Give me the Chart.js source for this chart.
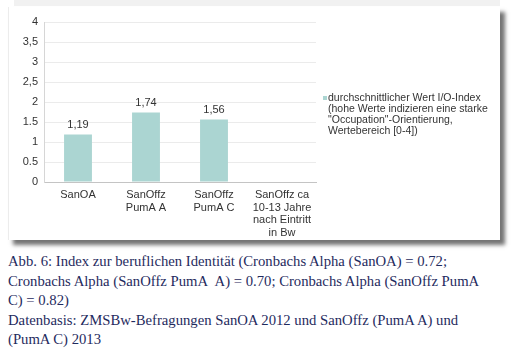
<!DOCTYPE html>
<html>
<head>
<meta charset="utf-8">
<script src="https://cdn.jsdelivr.net/npm/chart.js@4"></script>
<style>
  body { margin: 0; background: #fff; width: 511px; height: 353px; overflow: hidden; position: relative; }
  #band { position: absolute; left: 14px; top: 0; width: 486px; height: 6px; background: #f1f1f1; }
  #frame { position: absolute; left: 8px; top: 7px; width: 491px; height: 233px; background: #fff;
           border-left: 1px solid #ececec; box-shadow: 5px 5px 4px rgba(70,70,70,0.75); }
  #chartBox { position: absolute; left: 0; top: 0; width: 511px; height: 245px; }
  #caption { position: absolute; left: 8px; top: 252px; font-family: "Liberation Serif", serif;
             font-size: 14.7px; line-height: 19.5px; color: #1f2b5e; white-space: nowrap; }
</style>
</head>
<body>
<div id="band"></div>
<div id="frame"></div>
<div id="chartBox"><canvas id="myChart" width="511" height="245"></canvas></div>
<div id="caption">
Abb. 6: Index zur beruflichen Identität (Cronbachs Alpha (SanOA) = 0.72;<br>
Cronbachs Alpha (SanOffz PumA&nbsp; A) = 0.70; Cronbachs Alpha (SanOffz PumA<br>
C) = 0.82)<br>
Datenbasis: ZMSBw-Befragungen SanOA 2012 und SanOffz (PumA A) und<br>
(PumA C) 2013
</div>
<script>
var categories = [
  ["SanOA"],
  ["SanOffz", "PumA A"],
  ["SanOffz", "PumA C"],
  ["SanOffz ca", "10-13 Jahre", "nach Eintritt", "in Bw"]
];
var values = [1.19, 1.74, 1.56, null];
var valueLabels = ["1,19", "1,74", "1,56", ""];
var yTickLabels = ["0", "0.5", "1", "1.5", "2", "2,5", "3", "3,5", "4"];
var legendLines = [
  "durchschnittlicher Wert I/O-Index",
  "(hohe Werte indizieren eine starke",
  "\"Occupation\"-Orientierung,",
  "Wertebereich [0-4])"
];

var barColor = "#abd5d2";
var textColor = "#333333";

var labelPlugin = {
  id: "barLabels",
  afterDatasetsDraw: function (chart) {
    var ctx = chart.ctx;
    var meta = chart.getDatasetMeta(0);
    ctx.save();
    ctx.font = "11px 'Liberation Sans', Arial, sans-serif";
    ctx.fillStyle = textColor;
    ctx.textAlign = "center";
    ctx.textBaseline = "bottom";
    meta.data.forEach(function (bar, i) {
      if (values[i] == null) return;
      ctx.fillText(valueLabels[i], bar.x, bar.y - 4);
    });
    ctx.restore();
  }
};

var legendPlugin = {
  id: "sideLegend",
  afterDraw: function (chart) {
    var ctx = chart.ctx;
    var x = chart.chartArea.right + 12;
    var y = 98;
    ctx.save();
    ctx.fillStyle = barColor;
    ctx.fillRect(x - 5, y - 2, 4, 4);
    ctx.font = "10.5px 'Liberation Sans', Arial, sans-serif";
    ctx.fillStyle = textColor;
    ctx.textAlign = "left";
    ctx.textBaseline = "middle";
    legendLines.forEach(function (line, i) {
      ctx.fillText(line, x, y + i * 11);
    });
    ctx.restore();
  }
};

var myChart = new Chart(document.getElementById("myChart"), {
  type: "bar",
  data: {
    labels: categories,
    datasets: [
      {
        label: legendLines.join(" "),
        data: values,
        backgroundColor: barColor,
        barPercentage: 1,
        categoryPercentage: 0.41
      }
    ]
  },
  options: {
    responsive: false,
    animation: false,
    layout: { padding: { left: 0, top: 22, right: 195, bottom: 0 } },
    plugins: {
      legend: { display: false },
      tooltip: { enabled: false }
    },
    scales: {
      x: {
        grid: { display: false, drawTicks: false },
        border: { color: "#c4c4c4", width: 1 },
        ticks: {
          color: textColor,
          padding: 7,
          maxRotation: 0,
          autoSkip: false,
          font: { family: "'Liberation Sans', Arial, sans-serif", size: 11, lineHeight: 1.14 }
        },
        afterFit: function (scale) { scale.height = 63; }
      },
      y: {
        min: 0,
        max: 4,
        grid: { color: "#ebebeb", drawTicks: false },
        border: { color: "#d6d6d6", width: 1 },
        ticks: {
          stepSize: 0.5,
          color: textColor,
          padding: 6,
          font: { family: "'Liberation Sans', Arial, sans-serif", size: 11 },
          callback: function (value, index) { return yTickLabels[index]; }
        },
        afterFit: function (scale) { scale.width = 44; }
      }
    }
  },
  plugins: [labelPlugin, legendPlugin]
});
</script>
</body>
</html>
